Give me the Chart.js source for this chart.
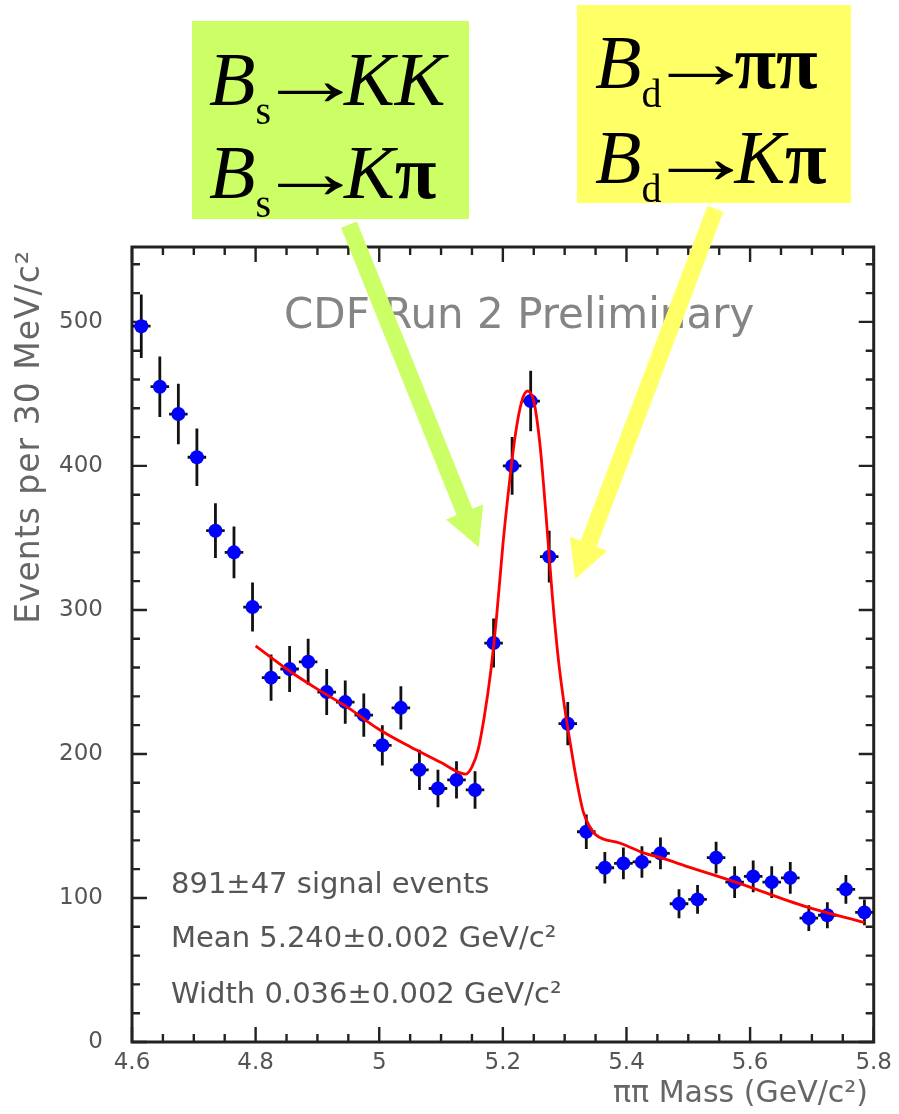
<!DOCTYPE html>
<html>
<head>
<meta charset="utf-8">
<title>ππ invariant mass</title>
<script src="https://cdn.jsdelivr.net/npm/chart.js@4.4.1/dist/chart.umd.min.js"></script>
<style>
  html, body { margin: 0; padding: 0; background: #ffffff; }
  #wrap { width: 899px; height: 1114px; position: relative; }
  canvas { display: block; }
</style>
</head>
<body>
<div id="wrap"><canvas id="massChart" width="899" height="1114"></canvas></div>
<script>
// Histogram: events per 30 MeV/c^2 bin (bin centres in GeV/c^2)
const massBins = [4.615, 4.645, 4.675, 4.705, 4.735, 4.765, 4.795, 4.825, 4.855, 4.885,
                  4.915, 4.945, 4.975, 5.005, 5.035, 5.065, 5.095, 5.125, 5.155, 5.185,
                  5.215, 5.245, 5.275, 5.305, 5.335, 5.365, 5.395, 5.425, 5.455, 5.485,
                  5.515, 5.545, 5.575, 5.605, 5.635, 5.665, 5.695, 5.725, 5.755, 5.785];
const eventCounts = [497, 455, 436, 406, 355, 340, 302, 253, 259, 264,
                     243, 236, 227, 206, 232, 189, 176, 182, 175, 277,
                     400, 445, 337, 221, 146, 121, 124, 125, 131, 96,
                     99, 128, 111, 115, 111, 114, 86, 88, 106, 90];
const countErrors = [22, 21, 21, 20, 19, 18, 17, 16, 16, 16,
                     16, 15, 15, 14, 15, 14, 13, 13, 13, 17,
                     20, 21, 18, 15, 12, 11, 11, 11, 11, 10,
                     10, 11, 11, 11, 11, 11, 9, 9, 10, 9];
const binHalfWidth = 0.015;

// Fitted signal + background curve
const fitMass   = [4.80, 4.85, 4.90, 4.95, 5.00, 5.05, 5.10, 5.13, 5.14, 5.15,
                   5.16, 5.17, 5.18, 5.19, 5.20, 5.21, 5.22, 5.23, 5.24, 5.25,
                   5.26, 5.27, 5.28, 5.29, 5.30, 5.31, 5.32, 5.33, 5.34, 5.35,
                   5.39, 5.43, 5.455, 5.50, 5.58, 5.69, 5.785];
const fitCounts = [275, 259, 245, 232, 217, 205, 194, 187, 186, 191,
                   203, 226, 256, 296, 345, 386, 421, 444, 452, 445,
                   415, 365, 310, 265, 232, 205, 180, 160, 150, 144,
                   138, 131, 128, 121.6, 110.5, 94, 83];

const xTicks = [4.6, 4.8, 5.0, 5.2, 5.4, 5.6, 5.8];
const yTicks = [0, 100, 200, 300, 400, 500];

const fitStats = [
  '891\u00b147 signal events',
  'Mean 5.240\u00b10.002 GeV/c\u00b2',
  'Width 0.036\u00b10.002 GeV/c\u00b2'
];

// Decay-mode labels: [text, style] runs; i = italic, sub = subscript, arr = arrow, pi = greek
const bsModes = [
  [['B', 'i'], ['s', 'sub'], ['\u2192', 'arr'], ['KK', 'i']],
  [['B', 'i'], ['s', 'sub'], ['\u2192', 'arr'], ['K', 'i'], ['\u03c0', 'pi']]
];
const bdModes = [
  [['B', 'i'], ['d', 'sub'], ['\u2192', 'arr'], ['\u03c0\u03c0', 'pi']],
  [['B', 'i'], ['d', 'sub'], ['\u2192', 'arr'], ['K', 'i'], ['\u03c0', 'pi']]
];

Chart.defaults.font.family = '"DejaVu Sans", sans-serif';

const SANS = '"DejaVu Sans", sans-serif';
const SERIF = '"Liberation Serif", "Times New Roman", serif';

// Frame with inward-pointing ticks on all four sides
const framePlugin = {
  id: 'frame',
  beforeDatasetsDraw(chart) {
    const { ctx, chartArea: a, scales: { x, y } } = chart;
    ctx.save();
    ctx.strokeStyle = '#222';
    ctx.lineWidth = 2.4;
    ctx.beginPath();
    for (let k = 0; k <= 24; k++) {
      const px = x.getPixelForValue(4.6 + k * 0.05);
      const len = k % 4 === 0 ? 15 : 8;
      ctx.moveTo(px, a.bottom); ctx.lineTo(px, a.bottom - len);
      ctx.moveTo(px, a.top);    ctx.lineTo(px, a.top + len);
    }
    for (let v = 0; v <= 552; v += 20) {
      const py = y.getPixelForValue(v);
      const len = v % 100 === 0 ? 15 : 8;
      ctx.moveTo(a.left, py);  ctx.lineTo(a.left + len, py);
      ctx.moveTo(a.right, py); ctx.lineTo(a.right - len, py);
    }
    ctx.stroke();
    ctx.lineWidth = 3;
    ctx.strokeRect(a.left, a.top, a.right - a.left, a.bottom - a.top);
    ctx.restore();
  }
};

// Error bars drawn just before the marker dataset so markers sit on top
const errorBarPlugin = {
  id: 'errorBars',
  beforeDatasetDraw(chart, args) {
    if (chart.data.datasets[args.index].label !== 'data') return;
    const { ctx, scales: { x, y } } = chart;
    ctx.save();
    ctx.strokeStyle = '#111';
    ctx.lineWidth = 2.8;
    ctx.beginPath();
    massBins.forEach((m, i) => {
      const px = x.getPixelForValue(m);
      const py = y.getPixelForValue(eventCounts[i]);
      ctx.moveTo(px, y.getPixelForValue(eventCounts[i] - countErrors[i]));
      ctx.lineTo(px, y.getPixelForValue(eventCounts[i] + countErrors[i]));
      ctx.moveTo(x.getPixelForValue(m - binHalfWidth), py);
      ctx.lineTo(x.getPixelForValue(m + binHalfWidth), py);
    });
    ctx.stroke();
    ctx.restore();
  }
};

function drawRuns(ctx, runs, x0, baseline) {
  let x = x0;
  for (const [t, s] of runs) {
    if (s === 'arr') {
      // long, thin right arrow: stretch the glyph's ink to a fixed length
      ctx.font = '76px ' + SERIF;
      const m = ctx.measureText(t);
      const inkL = -m.actualBoundingBoxLeft;
      const inkW = m.actualBoundingBoxRight + m.actualBoundingBoxLeft;
      const target = 66;
      const sx = target / inkW;
      ctx.save();
      ctx.translate(x + 6 - inkL * sx, baseline);
      ctx.scale(sx, 1);
      ctx.fillText(t, 0, 0);
      ctx.restore();
      x += 6 + target + 1;
      continue;
    }
    let dy = 0;
    if (s === 'i') ctx.font = 'italic 76px ' + SERIF;
    else if (s === 'sub') { ctx.font = '40px ' + SERIF; dy = 19; }
    else if (s === 'pi') ctx.font = 'bold 76px ' + SERIF;
    else ctx.font = '76px ' + SERIF;
    ctx.fillText(t, x, baseline + dy);
    x += ctx.measureText(t).width;
  }
}

function drawArrow(ctx, tail, tip, shaftW, headW, headL, color) {
  const dx = tip[0] - tail[0], dy = tip[1] - tail[1];
  const L = Math.hypot(dx, dy);
  const ux = dx / L, uy = dy / L, nx = -uy, ny = ux;
  const bx = tip[0] - ux * headL, by = tip[1] - uy * headL;
  ctx.save();
  ctx.fillStyle = color;
  ctx.beginPath();
  ctx.moveTo(tail[0] + nx * shaftW / 2, tail[1] + ny * shaftW / 2);
  ctx.lineTo(bx + nx * shaftW / 2, by + ny * shaftW / 2);
  ctx.lineTo(bx + nx * headW / 2, by + ny * headW / 2);
  ctx.lineTo(tip[0], tip[1]);
  ctx.lineTo(bx - nx * headW / 2, by - ny * headW / 2);
  ctx.lineTo(bx - nx * shaftW / 2, by - ny * shaftW / 2);
  ctx.lineTo(tail[0] - nx * shaftW / 2, tail[1] - ny * shaftW / 2);
  ctx.closePath();
  ctx.fill();
  ctx.restore();
}

// Titles, fit summary, decay-mode boxes and arrows
const annotationPlugin = {
  id: 'annotations',
  afterDraw(chart) {
    const { ctx, scales: { x, y } } = chart;
    ctx.save();

    // experiment tag
    ctx.fillStyle = '#858585';
    ctx.font = '42px ' + SANS;
    ctx.textAlign = 'left';
    ctx.textBaseline = 'alphabetic';
    ctx.fillText('CDF Run 2 Preliminary', 284, 328);

    // fit summary
    ctx.fillStyle = '#555';
    ctx.font = '29px ' + SANS;
    const statBase = [893, 947, 1003];
    fitStats.forEach((t, i) => ctx.fillText(t, 171, statBase[i]));

    // axis titles
    ctx.fillStyle = '#666';
    ctx.font = '30px ' + SANS;
    ctx.textAlign = 'right';
    ctx.fillText('\u03c0\u03c0 Mass (GeV/c\u00b2)', 868, 1102);
    ctx.save();
    ctx.translate(39, 250);
    ctx.rotate(-Math.PI / 2);
    ctx.font = '33px ' + SANS;
    ctx.letterSpacing = '1px';
    ctx.fillText('Events per 30 MeV/c\u00b2', 0, 0);
    ctx.restore();

    // arrows pointing at the two sides of the peak
    drawArrow(ctx,
      [x.getPixelForValue(4.951), y.getPixelForValue(567.5)],
      [x.getPixelForValue(5.161), y.getPixelForValue(343.5)],
      17, 40, 38, '#ccff66');
    drawArrow(ctx,
      [x.getPixelForValue(5.544), y.getPixelForValue(578.6)],
      [x.getPixelForValue(5.317), y.getPixelForValue(321.3)],
      17, 40, 38, '#ffff66');

    // decay-mode boxes
    ctx.textAlign = 'left';
    ctx.fillStyle = '#ccff66';
    ctx.fillRect(192, 21, 277, 198);
    ctx.fillStyle = '#ffff66';
    ctx.fillRect(577, 5, 274, 198);
    ctx.fillStyle = '#000';
    drawRuns(ctx, bsModes[0], 209, 105);
    drawRuns(ctx, bsModes[1], 209, 198);
    drawRuns(ctx, bdModes[0], 595, 88);
    drawRuns(ctx, bdModes[1], 595, 183);

    ctx.restore();
  }
};

new Chart(document.getElementById('massChart'), {
  data: {
    datasets: [
      {
        type: 'line',
        label: 'fit',
        data: fitMass.map((m, i) => ({ x: m, y: fitCounts[i] })),
        borderColor: '#ff0000',
        borderWidth: 2.8,
        pointRadius: 0,
        cubicInterpolationMode: 'monotone',
        fill: false,
        order: 0
      },
      {
        type: 'scatter',
        label: 'data',
        data: massBins.map((m, i) => ({ x: m, y: eventCounts[i] })),
        backgroundColor: '#0000ff',
        borderWidth: 0,
        pointRadius: 7,
        pointHoverRadius: 7,
        order: 1
      }
    ]
  },
  options: {
    responsive: false,
    animation: false,
    devicePixelRatio: 1,
    layout: { padding: { top: 247, right: 22, bottom: 0, left: 0 } },
    plugins: { legend: { display: false }, tooltip: { enabled: false } },
    scales: {
      x: {
        type: 'linear',
        min: 4.6,
        max: 5.8,
        grid: { display: false, drawTicks: false },
        border: { display: false },
        afterBuildTicks: s => { s.ticks = xTicks.map(v => ({ value: v })); },
        afterFit: s => { s.height = 72; },
        ticks: {
          color: '#555',
          font: { size: 23 },
          padding: 7,
          maxRotation: 0,
          autoSkip: false,
          callback: v => String(+Number(v).toFixed(1))
        }
      },
      y: {
        type: 'linear',
        min: 0,
        max: 552,
        grid: { display: false, drawTicks: false },
        border: { display: false },
        afterBuildTicks: s => { s.ticks = yTicks.map(v => ({ value: v })); },
        afterFit: s => { s.width = 132; },
        ticks: {
          color: '#555',
          font: { size: 23 },
          padding: 29,
          autoSkip: false,
          callback: v => String(v)
        }
      }
    }
  },
  plugins: [framePlugin, errorBarPlugin, annotationPlugin]
});
</script>
</body>
</html>
